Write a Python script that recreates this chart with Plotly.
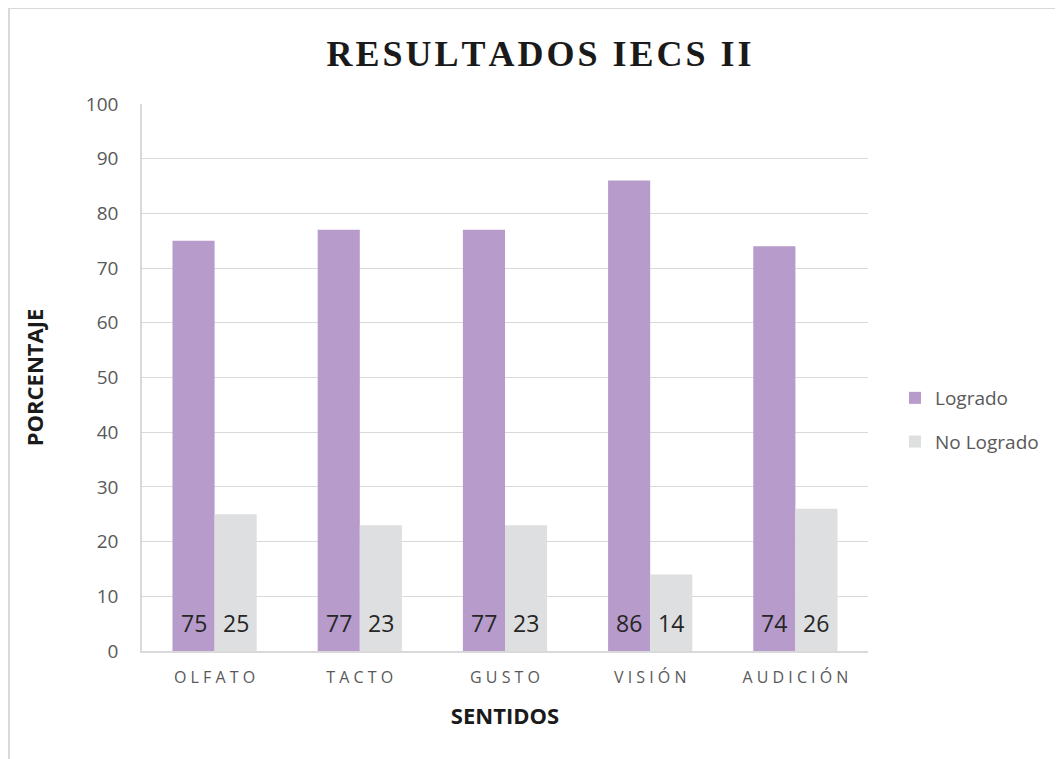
import plotly.graph_objects as go

categories = ["OLFATO", "TACTO", "GUSTO", "VISIÓN", "AUDICIÓN"]
logrado = [75, 77, 77, 86, 74]
no_logrado = [25, 23, 23, 14, 26]
y_ticks = [0, 10, 20, 30, 40, 50, 60, 70, 80, 90, 100]

def spaced(s):
    return " ".join(list(s))

tick_text = [spaced(c) for c in categories]

OFF = 8  # page body offset
W, H = 1063 - OFF, 759 - OFF
L, R, T, B = 142 - OFF, 868 - OFF, 104 - OFF, 651 - OFF

def px_x(px):
    return (px - OFF - L) / (R - L)

def px_y(py):
    return (B - (py - OFF)) / (B - T)

fig = go.Figure()
fig.add_trace(go.Bar(
    x=categories, y=logrado, name="Logrado", legendgroup="a",
    marker=dict(color="#B79BCB", line=dict(width=0)),
))
fig.add_trace(go.Bar(
    x=categories, y=no_logrado, name="No Logrado", legendgroup="b",
    marker=dict(color="#DEDFE0", line=dict(width=0)),
))

annotations = []
for series, shift in ((logrado, -21), (no_logrado, 21)):
    for c, v in zip(categories, series):
        annotations.append(dict(
            x=c, y=0, xref="x", yref="y", text=str(v), showarrow=False,
            xanchor="center", yanchor="middle", xshift=shift, yshift=28,
            font=dict(family="Open Sans", size=23, color="#262626"),
        ))

title_text = "\u200a".join(list("RESULTADOS IECS II"))

fig.update_layout(
    width=W, height=H,
    margin=dict(l=L, r=W - R, t=T, b=H - B, autoexpand=False),
    paper_bgcolor="white", plot_bgcolor="white",
    barmode="group", bargap=0.42, bargroupgap=0,
    title=dict(text="<b>" + title_text + "</b>", x=(539 - OFF) / W, xanchor="center",
               y=1 - (53 - OFF) / H, yanchor="middle", yref="container",
               font=dict(family="Liberation Serif", size=36, color="#1a1a1a")),
    showlegend=True,
    legend=dict(x=px_x(895), xanchor="left", y=px_y(420), yanchor="middle",
                font=dict(family="Open Sans", size=19, color="#595959"),
                tracegroupgap=16, traceorder="grouped", bgcolor="rgba(0,0,0,0)"),
    xaxis=dict(
        tickmode="array", tickvals=categories, ticktext=tick_text,
        tickfont=dict(family="Open Sans", size=16, color="#595959"),
        showline=True, linecolor="#D9D9D9", linewidth=1.5,
        ticks="", showgrid=False, ticklabelstandoff=11,
        title=dict(text="<b>SENTIDOS</b>", standoff=22,
                   font=dict(family="Open Sans", size=22, color="#1a1a1a")),
    ),
    yaxis=dict(
        range=[0, 100], tickmode="array", tickvals=y_ticks,
        tickfont=dict(family="Open Sans", size=19, color="#595959"),
        showgrid=True, gridcolor="#D9D9D9", gridwidth=1,
        showline=True, linecolor="#D9D9D9", linewidth=1.5,
        ticks="", zeroline=False, ticklabelstandoff=18,
        title=dict(text="<b>PORCENTAJE</b>", standoff=36,
                   font=dict(family="Open Sans", size=22, color="#1a1a1a")),
    ),
    annotations=annotations,
    shapes=[
        dict(type="line", xref="paper", yref="paper",
             x0=px_x(9), x1=px_x(1075), y0=px_y(8), y1=px_y(8),
             line=dict(color="#D9D9D9", width=2)),
        dict(type="line", xref="paper", yref="paper",
             x0=px_x(9), x1=px_x(9), y0=px_y(8), y1=px_y(780),
             line=dict(color="#D9D9D9", width=2)),
    ],
)

fig.write_html("out.html")
